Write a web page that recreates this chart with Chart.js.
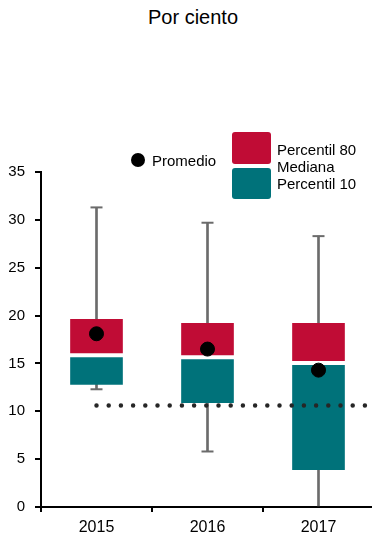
<!DOCTYPE html>
<html>
<head>
<meta charset="utf-8">
<script src="https://cdn.jsdelivr.net/npm/chart.js@4"></script>
<style>
  html, body { margin: 0; padding: 0; background: #fff; overflow: hidden; }
  #wrap { position: relative; width: 372px; height: 539px; font-family: "Liberation Sans", Arial, sans-serif; color: #000; }
  #title { position: absolute; left: 0; width: 386px; top: 6px; text-align: center; font-size: 20px; }
  canvas { position: absolute; left: 0; top: 0; }
  .leg { position: absolute; font-size: 15px; line-height: 17px; }
  .dot { position: absolute; width: 14px; height: 14px; border-radius: 50%; background: #000; }
  .sw { position: absolute; width: 39px; border-radius: 3px; }
</style>
</head>
<body>
<div id="wrap">
  <div id="title">Por ciento</div>
  <canvas id="chart" width="374" height="539"></canvas>
  <div class="dot" style="left:131px; top:153px;"></div>
  <div class="leg" style="left:152px; top:152px;">Promedio</div>
  <div class="sw" style="left:232px; top:132px; height:32px; background:#c00c35;"></div>
  <div class="sw" style="left:232px; top:168px; height:31px; background:#00727a;"></div>
  <div class="leg" style="left:277px; top:141px;">Percentil 80<br>Mediana<br>Percentil 10</div>
</div>
<script>
const years = ['2015', '2016', '2017'];
const p80 = [19.6, 19.2, 19.2];
const median = [15.85, 15.65, 15.05];
const p10 = [12.8, 10.9, 3.9];
const maxVal = [31.3, 29.7, 28.3];
const minVal = [12.3, 5.8, 0];
const lowCaps = [12.3, 5.8, null];
const mean = [18.1, 16.5, 14.3];
const reference = 10.6;

const red = '#c00c35';
const teal = '#00727a';
const gray = '#6b6b6b';

const ctx = document.getElementById('chart').getContext('2d');

new Chart(ctx, {
    type: 'bar',
    data: {
        labels: years,
        datasets: [
            {
                label: 'whisker',
                data: years.map((y, i) => [minVal[i], maxVal[i]]),
                backgroundColor: gray,
                barThickness: 2,
                grouped: false,
                order: 6
            },
            {
                type: 'line',
                label: 'caps top',
                data: maxVal,
                showLine: false,
                pointStyle: 'line',
                pointRadius: 6,
                pointHoverRadius: 6,
                pointBorderWidth: 2,
                pointBorderColor: gray,
                order: 5
            },
            {
                type: 'line',
                label: 'caps bottom',
                data: lowCaps,
                showLine: false,
                pointStyle: 'line',
                pointRadius: 6,
                pointHoverRadius: 6,
                pointBorderWidth: 2,
                pointBorderColor: gray,
                order: 5
            },
            {
                label: 'Percentil 80',
                data: years.map((y, i) => [median[i], p80[i]]),
                backgroundColor: red,
                barThickness: 52,
                grouped: false,
                order: 4
            },
            {
                label: 'Percentil 10',
                data: years.map((y, i) => [p10[i], median[i]]),
                backgroundColor: teal,
                barThickness: 52,
                grouped: false,
                order: 4
            },
            {
                type: 'line',
                label: 'Mediana',
                data: median,
                showLine: false,
                pointStyle: 'line',
                pointRadius: 27,
                pointHoverRadius: 27,
                pointBorderWidth: 4,
                pointBorderColor: '#ffffff',
                order: 3
            },
            {
                type: 'line',
                label: 'ref',
                xAxisID: 'x2',
                data: [{x: 0, y: reference}, {x: 2.5, y: reference}],
                borderColor: '#262626',
                borderWidth: 4.5,
                borderDash: [0, 12.2],
                borderCapStyle: 'round',
                pointRadius: 0,
                fill: false,
                order: 2
            },
            {
                type: 'line',
                label: 'Promedio',
                data: mean,
                showLine: false,
                pointRadius: 7,
                pointHoverRadius: 7,
                pointBackgroundColor: '#000',
                pointBorderColor: '#000',
                order: 1
            }
        ]
    },
    options: {
        responsive: false,
        animation: false,
        events: [],
        layout: { autoPadding: false, padding: { top: 172, right: 0, left: 0, bottom: 0 } },
        plugins: {
            legend: { display: false },
            tooltip: { enabled: false }
        },
        scales: {
            x: {
                afterFit: (scale) => { scale.height = 32; },
                border: { color: '#000', width: 2 },
                grid: { offset: true, drawOnChartArea: false, color: '#000', lineWidth: 2, tickLength: 5 },
                ticks: { color: '#000', padding: 6, font: { family: 'Liberation Sans', size: 16 } }
            },
            x2: {
                type: 'linear',
                display: false,
                offset: false,
                min: -0.5,
                max: 2.5
            },
            y: {
                min: 0,
                max: 35,
                afterFit: (scale) => { scale.width = 41; },
                border: { color: '#000', width: 2 },
                grid: { drawOnChartArea: false, color: '#000', lineWidth: 2, tickLength: 6 },
                ticks: { stepSize: 5, color: '#000', padding: 10, font: { family: 'Liberation Sans', size: 15 } }
            }
        }
    }
});
</script>
</body>
</html>
